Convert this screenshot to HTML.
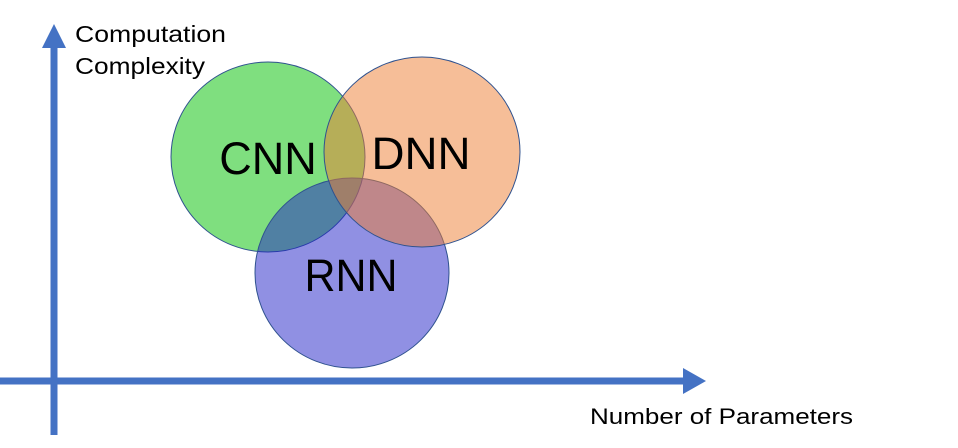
<!DOCTYPE html>
<html><head><style>body{margin:0;background:#fff}svg{display:block}</style></head><body>
<svg width="958" height="448" viewBox="0 0 958 448" xmlns="http://www.w3.org/2000/svg" font-family="Liberation Sans, sans-serif">
<line x1="54" y1="45" x2="54" y2="435" stroke="#4472c4" stroke-width="7"/>
<polygon points="54,24 42,48 66,48" fill="#4472c4"/>
<line x1="0" y1="381" x2="685" y2="381" stroke="#4472c4" stroke-width="7"/>
<polygon points="706,381 683,368 683,394" fill="#4472c4"/>
<text x="75" y="42" font-size="23" fill="#000" textLength="151" lengthAdjust="spacingAndGlyphs">Computation</text>
<text x="75" y="74" font-size="23" fill="#000" textLength="130" lengthAdjust="spacingAndGlyphs">Complexity</text>
<text x="590" y="424" font-size="22" fill="#000" textLength="263" lengthAdjust="spacingAndGlyphs">Number of Parameters</text>
<ellipse cx="268" cy="157" rx="97" ry="95" fill="rgb(0,192,0)" fill-opacity="0.5" stroke="#2f528f" stroke-width="1"/>
<ellipse cx="352" cy="273" rx="97" ry="95" fill="rgb(34,34,200)" fill-opacity="0.5" stroke="#2f528f" stroke-width="1"/>
<ellipse cx="422" cy="152" rx="98" ry="95" fill="rgb(237,125,49)" fill-opacity="0.5" stroke="#2f528f" stroke-width="1"/>
<text x="268" y="174" font-size="45" text-anchor="middle" fill="#000">CNN</text>
<text x="421" y="169" font-size="45" text-anchor="middle" fill="#000" textLength="99" lengthAdjust="spacingAndGlyphs">DNN</text>
<text x="351" y="291" font-size="45" text-anchor="middle" fill="#000" textLength="93" lengthAdjust="spacingAndGlyphs">RNN</text>
</svg>
</body></html>
